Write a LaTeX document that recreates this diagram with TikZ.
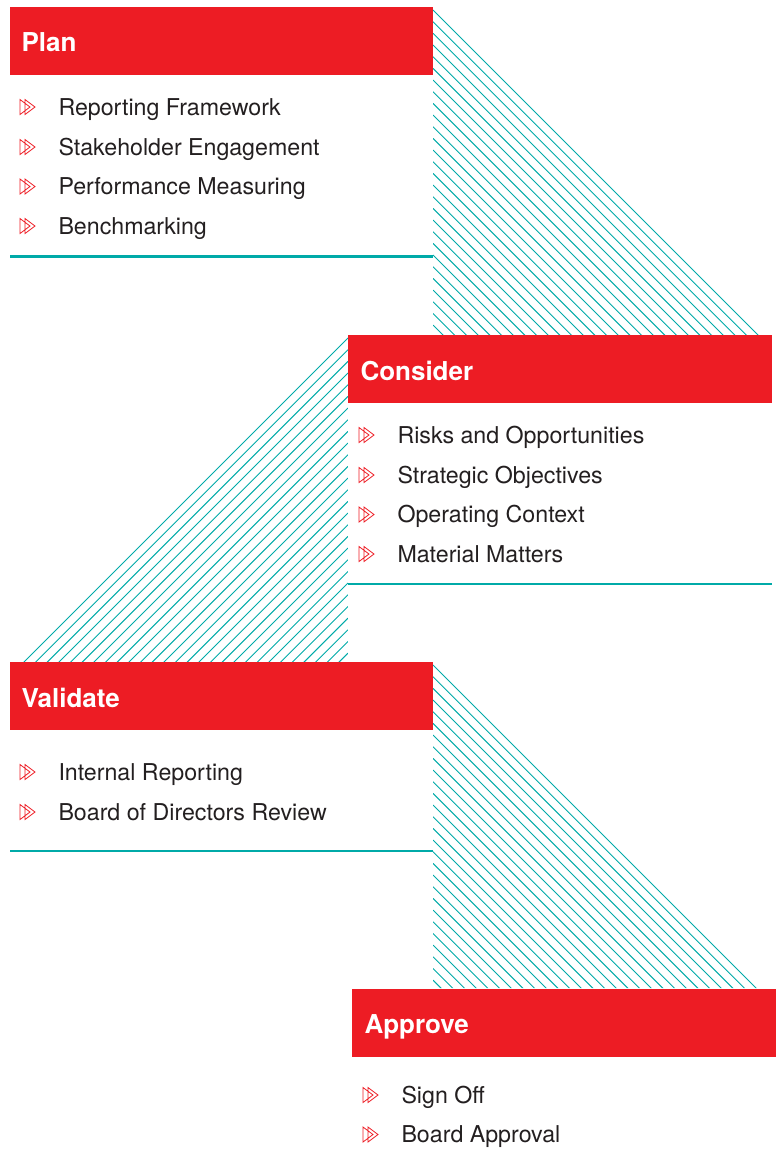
\documentclass[tikz,border=0pt]{standalone}
\usepackage{fontspec}
\setmainfont{TeX Gyre Heros}

\definecolor{stepred}{RGB}{237,28,36}
\definecolor{tealrule}{RGB}{0,170,168}
\definecolor{ink}{RGB}{35,31,32}

\tikzset{every picture/.style={line width=0.75pt}}
\tikzset{
  headbox/.style={fill=stepred, draw=none},
  headtext/.style={anchor=base west, inner sep=0pt, text=white, font=\fontsize{19.5}{23}\selectfont\bfseries},
  itemtext/.style={anchor=base west, inner sep=0pt, text=ink, font=\fontsize{17.4}{21}\selectfont},
  rulebar/.style={draw=tealrule, line width=1.6pt},
  hatchline/.style={draw=tealrule, line width=0.7pt},
  twotri/.pic={
    \draw [draw=stepred, line width=0.6pt, line join=miter] (0,-7.5) -- (10,0) -- (0,7.5) -- cycle (5,-7.5) -- (15,0) -- (5,7.5) -- cycle ;
  }
}

\begin{document}
\begin{tikzpicture}[x=0.75pt,y=0.75pt,yscale=-1,xscale=1]
\useasboundingbox (0,0) rectangle (778,1167);

%Hatch: Plan -> Consider
\begin{scope}
\clip (433,8) -- (433,335) -- (760,335) -- cycle ;
\foreach \k in {0,...,28} \draw [hatchline] (433,10+\k*11.67) -- ++(400,400) ;
\end{scope}
%Hatch: Consider -> Validate
\begin{scope}
\clip (348,336) -- (348,662) -- (22,662) -- cycle ;
\foreach \k in {0,...,28} \draw [hatchline] (348,338+\k*11.67) -- ++(-400,400) ;
\end{scope}
%Hatch: Validate -> Approve
\begin{scope}
\clip (433,663) -- (433,988) -- (760,988) -- cycle ;
\foreach \k in {0,...,28} \draw [hatchline] (433,665+\k*11.67) -- ++(400,400) ;
\end{scope}

%Shape: Rectangle [Plan]
\fill [headbox] (10,7) rectangle (433,75) ;
%Shape: Rectangle [Consider]
\fill [headbox] (348,335) rectangle (772,403) ;
%Shape: Rectangle [Validate]
\fill [headbox] (10,662) rectangle (433,730) ;
%Shape: Rectangle [Approve]
\fill [headbox] (352,989) rectangle (776,1057) ;

%Straight Lines
\draw [rulebar] (10,256.5) -- (433,256.5) ;
\draw [rulebar] (348,584) -- (772,584) ;
\draw [rulebar] (10,851) -- (433,851) ;

% Text Node
\draw (21,51.5) node [headtext] (plan) {Plan};
% Text Node
\draw (360,380) node [headtext] (consider) {Consider};
% Text Node
\draw (21,707) node [headtext] (validate) {Validate};
% Text Node
\draw (364,1033.5) node [headtext] (approve) {Approve};

%Bullets and Text Nodes [Plan]
\draw (20,107) pic {twotri} ;
\draw (58,115) node [itemtext] (plan1) {Reporting Framework};
\draw (20,147) pic {twotri} ;
\draw (58,155) node [itemtext] (plan2) {Stakeholder Engagement};
\draw (20,186.5) pic {twotri} ;
\draw (58,194.5) node [itemtext] (plan3) {Performance Measuring};
\draw (20,226) pic {twotri} ;
\draw (58,234) node [itemtext] (plan4) {Benchmarking};

%Bullets and Text Nodes [Consider]
\draw (359,435) pic {twotri} ;
\draw (397,443) node [itemtext] (consider1) {Risks and Opportunities};
\draw (359,475) pic {twotri} ;
\draw (397,483) node [itemtext] (consider2) {Strategic Objectives};
\draw (359,514.5) pic {twotri} ;
\draw (397,522.5) node [itemtext] (consider3) {Operating Context};
\draw (359,554) pic {twotri} ;
\draw (397,562) node [itemtext] (consider4) {Material Matters};

%Bullets and Text Nodes [Validate]
\draw (20,772) pic {twotri} ;
\draw (58,780) node [itemtext] (validate1) {Internal Reporting};
\draw (20,812) pic {twotri} ;
\draw (58,820) node [itemtext] (validate2) {Board of Directors Review};

%Bullets and Text Nodes [Approve]
\draw (363,1095) pic {twotri} ;
\draw (401,1103) node [itemtext] (approve1) {Sign Off};
\draw (363,1134.5) pic {twotri} ;
\draw (401,1142.5) node [itemtext] (approve2) {Board Approval};

\end{tikzpicture}
\end{document}
